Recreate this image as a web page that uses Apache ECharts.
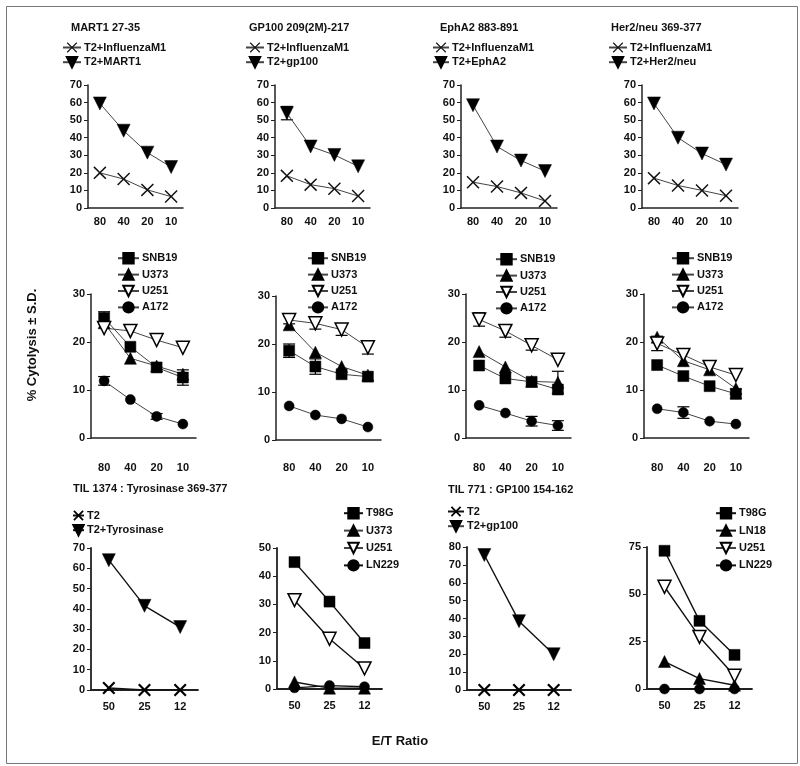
<!DOCTYPE html>
<html><head><meta charset="utf-8">
<script src="https://cdn.jsdelivr.net/npm/echarts@6/dist/echarts.min.js"></script>
<style>html,body{margin:0;padding:0;background:#fff}#c{width:800px;height:766px}</style>
</head><body><div id="c"></div>
<script>
// ---------- DATA ----------
const catsET1 = ['80','40','20','10'];
const catsET2 = ['50','25','12'];

// Row 1
const p1Title = 'MART1 27-35';
const p1Influenza = [20, 16.5, 10.3, 6.5];
const p1Mart1 = [59.5, 44, 31.5, 23.3];
const p2Title = 'GP100 209(2M)-217';
const p2Influenza = [18.3, 13.3, 11, 6.8];
const p2Gp100 = [54, 35, 30.2, 23.7];
const p2Gp100Err = [3.8, null, null, null];
const p3Title = 'EphA2 883-891';
const p3Influenza = [14.7, 12.2, 8.6, 4];
const p3EphA2 = [58.5, 35, 27, 21];
const p4Title = 'Her2/neu 369-377';
const p4Influenza = [17, 12.8, 10, 7];
const p4Her2 = [59.5, 40, 31, 24.7];

// Row 2
const p5SNB19 = [25, 19, 14.7, 12.6];
const p5SNB19Err = [1.3, null, null, 1.6];
const p5U373 = [24, 16.6, 15, 13.3];
const p5U251 = [22.9, 22.3, 20.4, 18.8];
const p5A172 = [11.9, 8, 4.5, 2.9];
const p5A172Err = [0.9, null, 0.6, null];

const p6SNB19 = [18.6, 15.3, 13.7, 13.2];
const p6SNB19Err = [1.4, 1.6, null, null];
const p6U373 = [24, 18.3, 15.3, 13.5];
const p6U251 = [25, 24.3, 23, 19.3];
const p6U251Err = [0.8, 1.2, 1.2, 1.4];
const p6A172 = [7.1, 5.2, 4.4, 2.7];

const p7SNB19 = [15.1, 12.4, 11.7, 10.1];
const p7U373 = [18, 14.8, 11.8, 11.6];
const p7U373Err = [null, null, null, 2.3];
const p7U251 = [24.7, 22.3, 19.3, 16.3];
const p7U251Err = [1.4, 1.3, 1.0, null];
const p7A172 = [6.8, 5.2, 3.5, 2.6];
const p7A172Err = [null, null, 1.0, 1.0];

const p8SNB19 = [15.2, 12.9, 10.8, 9.2];
const p8SNB19Err = [null, null, null, 1.0];
const p8U373 = [21, 16.1, 14.2, 10.3];
const p8U251 = [19.7, 17.3, 14.8, 13.1];
const p8U251Err = [1.5, null, null, null];
const p8A172 = [6.1, 5.3, 3.5, 2.9];
const p8A172Err = [null, 1.2, null, null];

// Row 3
const p9Title = 'TIL 1374 : Tyrosinase 369-377';
const p9T2 = [1, 0, 0];
const p9Tyrosinase = [64, 41.5, 31];
const p10T98G = [45, 31, 16.3];
const p10U373 = [2.5, 0.3, 0.3];
const p10U251 = [31.5, 17.8, 7.3];
const p10LN229 = [0.4, 1.2, 0.8];
const p11Title = 'TIL 771 : GP100 154-162';
const p11T2 = [0, 0, 0];
const p11Gp100 = [75.5, 38.5, 20];
const p12T98G = [73, 36, 18];
const p12LN18 = [14.5, 5.5, 2];
const p12U251 = [54, 27.5, 7];
const p12LN229 = [0, 0, 0];

const yAxisTitle = '% Cytolysis \u00b1 S.D.';
const xAxisTitle = 'E/T Ratio';

// ---------- STYLE ----------
const FONT = '"Liberation Sans", Arial, sans-serif';
const X_SYM = 'path://M0,0.8 L0.8,0 L5,4.2 L9.2,0 L10,0.8 L5.8,5 L10,9.2 L9.2,10 L5,5.8 L0.8,10 L0,9.2 L4.2,5 Z';
const X_SYM_B = 'path://M0,1.2 L1.2,0 L5,3.8 L8.8,0 L10,1.2 L6.2,5 L10,8.8 L8.8,10 L5,6.2 L1.2,10 L0,8.8 L3.8,5 Z';
const TRI_DOWN = 'path://M0,0 L10,0 L5,9 Z';
const S = {
  x:    {symbol: X_SYM, fill: '#111', border: '#111', bw: 0, size: 13},
  xb:   {symbol: X_SYM_B, fill: '#000', border: '#000', bw: 0, size: 13},
  tdF:  {symbol: TRI_DOWN, fill: '#000', border: '#000', bw: 0.5, size: 13},
  sq:   {symbol: 'rect', fill: '#000', border: '#000', bw: 0.5, size: 11},
  tu:   {symbol: 'triangle', fill: '#000', border: '#000', bw: 0.5, size: 12},
  tdO:  {symbol: TRI_DOWN, fill: '#fff', border: '#000', bw: 1.5, size: 13},
  ci:   {symbol: 'circle', fill: '#000', border: '#000', bw: 0.5, size: 10}
};

const panels = [
  // Row 1
  {grid:{left:88,top:85,width:95,height:123}, cats:catsET1, y:[0,70,10], lm:8,
   title:{text:p1Title,x:71,y:29}, legend:{left:62,top:42,gap:3,w:18},
   series:[{name:'T2+InfluenzaM1',data:p1Influenza,st:'x'},{name:'T2+MART1',data:p1Mart1,st:'tdF'}]},
  {grid:{left:275,top:85,width:95,height:123}, cats:catsET1, y:[0,70,10], lm:8,
   title:{text:p2Title,x:249,y:29}, legend:{left:245,top:42,gap:3,w:18},
   series:[{name:'T2+InfluenzaM1',data:p2Influenza,st:'x'},{name:'T2+gp100',data:p2Gp100,st:'tdF',err:p2Gp100Err}]},
  {grid:{left:461,top:85,width:96,height:123}, cats:catsET1, y:[0,70,10], lm:8,
   title:{text:p3Title,x:440,y:29}, legend:{left:432,top:42,gap:3,w:16},
   series:[{name:'T2+InfluenzaM1',data:p3Influenza,st:'x'},{name:'T2+EphA2',data:p3EphA2,st:'tdF'}]},
  {grid:{left:642,top:85,width:96,height:123}, cats:catsET1, y:[0,70,10], lm:8,
   title:{text:p4Title,x:611,y:29}, legend:{left:608,top:42,gap:3,w:18},
   series:[{name:'T2+InfluenzaM1',data:p4Influenza,st:'x'},{name:'T2+Her2/neu',data:p4Her2,st:'tdF'}]},
  // Row 2
  {grid:{left:91,top:294,width:105,height:144}, cats:catsET1, y:[0,30,10], lm:24,
   legend:{left:117,top:252,gap:4,w:21},
   series:[{name:'SNB19',data:p5SNB19,st:'sq',err:p5SNB19Err},{name:'U373',data:p5U373,st:'tu'},
           {name:'U251',data:p5U251,st:'tdO'},{name:'A172',data:p5A172,st:'ci',err:p5A172Err}]},
  {grid:{left:276,top:296,width:105,height:144}, cats:catsET1, y:[0,30,10], lm:22,
   legend:{left:307,top:252,gap:4,w:20},
   series:[{name:'SNB19',data:p6SNB19,st:'sq',err:p6SNB19Err},{name:'U373',data:p6U373,st:'tu'},
           {name:'U251',data:p6U251,st:'tdO',err:p6U251Err},{name:'A172',data:p6A172,st:'ci'}]},
  {grid:{left:466,top:294,width:105,height:144}, cats:catsET1, y:[0,30,10], lm:24,
   legend:{left:495,top:253,gap:4,w:21},
   series:[{name:'SNB19',data:p7SNB19,st:'sq'},{name:'U373',data:p7U373,st:'tu',err:p7U373Err},
           {name:'U251',data:p7U251,st:'tdO',err:p7U251Err},{name:'A172',data:p7A172,st:'ci',err:p7A172Err}]},
  {grid:{left:644,top:294,width:105,height:144}, cats:catsET1, y:[0,30,10], lm:24,
   legend:{left:671,top:252,gap:4,w:22},
   series:[{name:'SNB19',data:p8SNB19,st:'sq',err:p8SNB19Err},{name:'U373',data:p8U373,st:'tu'},
           {name:'U251',data:p8U251,st:'tdO',err:p8U251Err},{name:'A172',data:p8A172,st:'ci',err:p8A172Err}]},
  // Row 3
  {grid:{left:91,top:548,width:107,height:142}, cats:catsET2, y:[0,70,10], lm:11, strong:true,
   title:{text:p9Title,x:73,y:490}, legend:{left:72,top:510,gap:3,w:11},
   series:[{name:'T2',data:p9T2,st:'xb'},{name:'T2+Tyrosinase',data:p9Tyrosinase,st:'tdF'}]},
  {grid:{left:277,top:548,width:105,height:141}, cats:catsET2, y:[0,50,10], lm:11, strong:true,
   legend:{left:343,top:507,gap:5,w:19},
   series:[{name:'T98G',data:p10T98G,st:'sq'},{name:'U373',data:p10U373,st:'tu'},
           {name:'U251',data:p10U251,st:'tdO'},{name:'LN229',data:p10LN229,st:'ci'}]},
  {grid:{left:467,top:547,width:104,height:143}, cats:catsET2, y:[0,80,10], lm:11, strong:true,
   title:{text:p11Title,x:448,y:491}, legend:{left:447,top:506,gap:3,w:16},
   series:[{name:'T2',data:p11T2,st:'xb'},{name:'T2+gp100',data:p11Gp100,st:'tdF'}]},
  {grid:{left:647,top:547,width:105,height:142}, cats:catsET2, y:[0,75,25], lm:11, strong:true,
   legend:{left:715,top:507,gap:5,w:20},
   series:[{name:'T98G',data:p12T98G,st:'sq'},{name:'LN18',data:p12LN18,st:'tu'},
           {name:'U251',data:p12U251,st:'tdO'},{name:'LN229',data:p12LN229,st:'ci'}]}
];

// ---------- BUILD ----------
const option = {
  animation:false, backgroundColor:'#fff',
  textStyle:{fontFamily:FONT},
  grid:[], xAxis:[], yAxis:[], series:[], legend:[], graphic:[]
};
const lbl = {color:'#111', fontFamily:FONT, fontWeight:'bold', fontSize:11};

panels.forEach((p, i) => {
  const axisCol = '#222';
  const aw = p.strong ? 1.8 : 1.5;
  option.grid.push(Object.assign({containLabel:false}, p.grid));
  option.xAxis.push({type:'category', gridIndex:i, data:p.cats, boundaryGap:true,
    axisLine:{lineStyle:{color:axisCol,width:aw}},
    axisTick:{alignWithLabel:true,length:4,lineStyle:{color:axisCol,width:1}},
    axisLabel:Object.assign({margin:p.lm}, lbl), splitLine:{show:false}});
  option.yAxis.push({type:'value', gridIndex:i, min:p.y[0], max:p.y[1], interval:p.y[2],
    axisLine:{show:true,lineStyle:{color:axisCol,width:aw}},
    axisTick:{show:true,length:4,lineStyle:{color:axisCol,width:1}},
    axisLabel:Object.assign({margin:6}, lbl), splitLine:{show:false}});
  p.series.forEach(s => {
    const st = S[s.st];
    option.series.push({type:'line', name:s.name, xAxisIndex:i, yAxisIndex:i, data:s.data,
      symbol:st.symbol, symbolSize:st.size, showSymbol:true, z:3,
      lineStyle:{color:p.strong?'#111':'#444', width:p.strong?1.4:1},
      itemStyle:{color:st.fill, borderColor:st.border, borderWidth:st.bw, opacity:1},
      emphasis:{disabled:true}});
    if (s.err) {
      const ed = [];
      s.err.forEach((e, k) => { if (e != null) ed.push([k, s.data[k]-e, s.data[k]+e]); });
      option.series.push({type:'custom', xAxisIndex:i, yAxisIndex:i, data:ed, z:2,
        renderItem:function(params, api){
          const lo = api.coord([api.value(0), api.value(1)]);
          const hi = api.coord([api.value(0), api.value(2)]);
          const cw = 6;
          const ls = {stroke:'#000', lineWidth:1.2};
          return {type:'group', children:[
            {type:'line', shape:{x1:lo[0],y1:lo[1],x2:hi[0],y2:hi[1]}, style:ls},
            {type:'line', shape:{x1:lo[0]-cw,y1:lo[1],x2:lo[0]+cw,y2:lo[1]}, style:ls},
            {type:'line', shape:{x1:hi[0]-cw,y1:hi[1],x2:hi[0]+cw,y2:hi[1]}, style:ls}
          ]};
        }});
    }
  });
  option.legend.push({orient:'vertical', left:p.legend.left, top:p.legend.top,
    itemGap:p.legend.gap, itemWidth:p.legend.w, itemHeight:13, padding:0,
    selectedMode:false, data:p.series.map(s=>s.name),
    textStyle:Object.assign({padding:[0,0,0,-2]}, lbl)});
  if (p.title) {
    option.graphic.push({type:'text', left:p.title.x, top:p.title.y-7,
      style:{text:p.title.text, font:'bold 11px '+FONT, fill:'#111'}});
  }
});

option.graphic.push({type:'rect', left:4, top:4, shape:{width:791, height:757},
  style:{fill:'none', stroke:'#777', lineWidth:1}});
option.graphic.push({type:'text', x:32, y:345, rotation:Math.PI/2,
  style:{text:yAxisTitle, font:'bold 13px '+FONT, fill:'#111', align:'center', verticalAlign:'middle'}});
option.graphic.push({type:'text', x:400, y:741,
  style:{text:xAxisTitle, font:'bold 13px '+FONT, fill:'#111', align:'center', verticalAlign:'middle'}});

const chart = echarts.init(document.getElementById('c'), null, {renderer:'canvas'});
chart.setOption(option);
</script></body></html>
